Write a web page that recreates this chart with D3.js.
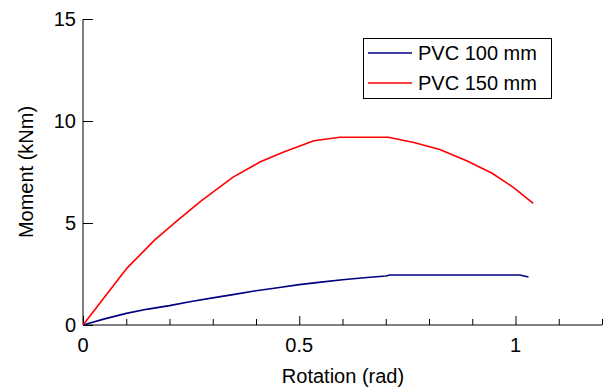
<!DOCTYPE html>
<html>
<head>
<meta charset="utf-8">
<script src="https://cdn.jsdelivr.net/npm/d3@7"></script>
<style>
  body { margin: 0; background: #fff; }
  text { font-family: Arial, "Liberation Sans", sans-serif; fill: #000; }
</style>
</head>
<body>
<svg id="chart" width="607" height="390"></svg>
<script>
// Data
const seriesNames = ["PVC 100 mm", "PVC 150 mm"];
const seriesColors = ["#000080", "#ff0000"];

const pvc100 = [
  [0, 0], [0.05, 0.3], [0.1, 0.57], [0.15, 0.78], [0.2, 0.95], [0.25, 1.15],
  [0.3, 1.33], [0.35, 1.5], [0.4, 1.68], [0.45, 1.83], [0.5, 1.98], [0.55, 2.1],
  [0.6, 2.22], [0.65, 2.32], [0.7, 2.4], [0.71, 2.45], [1.01, 2.45], [1.03, 2.35]
];
const pvc150 = [
  [0, 0], [0.1, 2.75], [0.166, 4.17], [0.22, 5.15], [0.274, 6.1], [0.347, 7.25],
  [0.41, 8.0], [0.467, 8.5], [0.534, 9.03], [0.594, 9.2], [0.706, 9.2],
  [0.765, 8.95], [0.825, 8.6], [0.887, 8.05], [0.945, 7.45], [0.995, 6.75], [1.041, 5.96]
];

const xMajorTicks = [0, 0.5, 1];
const xMinorTicks = [0.1, 0.2, 0.3, 0.4, 0.6, 0.7, 0.8, 0.9, 1.1, 1.2];
const yTicks = [0, 5, 10, 15];

const svg = d3.select("#chart");

// scales
const x = d3.scaleLinear().domain([0, 1.2]).range([83, 602]);
const y = d3.scaleLinear().domain([0, 15]).range([325, 19]);

// x axis (ticks point inward)
const xAxis = svg.append("g").attr("transform", `translate(0,${y(0)})`);
xAxis.call(d3.axisTop(x).tickValues(xMinorTicks).tickSize(6).tickFormat(""));
xAxis.call(g => g.select(".domain").remove());
const xMajor = svg.append("g").attr("transform", `translate(0,${y(0)})`)
  .call(d3.axisTop(x).tickValues(xMajorTicks).tickSize(9).tickFormat(""));
xMajor.select(".domain").attr("d", `M${x(0)},0H${x(1.2)}`);
svg.selectAll(".tick line").attr("stroke", "#000");
svg.selectAll(".domain").attr("stroke", "#000");

svg.append("g").selectAll("text")
  .data(xMajorTicks)
  .join("text")
  .attr("x", d => x(d))
  .attr("y", 352)
  .attr("text-anchor", "middle")
  .attr("font-size", 20)
  .text(d => d);

// y axis (ticks point inward)
const yAxis = svg.append("g").attr("transform", `translate(${x(0)},0)`)
  .call(d3.axisRight(y).tickValues(yTicks).tickSize(10).tickFormat(""));
yAxis.select(".domain").attr("d", `M0,${y(15)}V${y(0)}`).attr("stroke", "#000");
yAxis.selectAll(".tick line").attr("stroke", "#000");

svg.append("g").selectAll("text")
  .data(yTicks)
  .join("text")
  .attr("x", 76)
  .attr("y", d => y(d))
  .attr("dy", "0.36em")
  .attr("text-anchor", "end")
  .attr("font-size", 20)
  .text(d => d);

// axis titles
svg.append("text")
  .attr("x", 343)
  .attr("y", 383)
  .attr("text-anchor", "middle")
  .attr("font-size", 20)
  .text("Rotation (rad)");

svg.append("text")
  .attr("transform", "translate(33,172) rotate(-90)")
  .attr("text-anchor", "middle")
  .attr("font-size", 20)
  .text("Moment (kNm)");

// lines
const line = d3.line().x(d => x(d[0])).y(d => y(d[1]));
[pvc100, pvc150].forEach((s, i) => {
  svg.append("path")
    .datum(s)
    .attr("fill", "none")
    .attr("stroke", seriesColors[i])
    .attr("stroke-width", 1.6)
    .attr("stroke-linejoin", "round")
    .attr("d", line);
});

// legend
const legend = svg.append("g");
legend.append("rect")
  .attr("x", 363.5).attr("y", 38.5)
  .attr("width", 188).attr("height", 60)
  .attr("fill", "#fff").attr("stroke", "#000").attr("stroke-width", 1);
seriesNames.forEach((name, i) => {
  const ly = 53 + i * 30;
  legend.append("line")
    .attr("x1", 368).attr("x2", 412)
    .attr("y1", ly).attr("y2", ly)
    .attr("stroke", seriesColors[i]).attr("stroke-width", 1.6);
  legend.append("text")
    .attr("x", 418).attr("y", ly)
    .attr("dy", "0.36em")
    .attr("font-size", 20)
    .text(name);
});
</script>
</body>
</html>
